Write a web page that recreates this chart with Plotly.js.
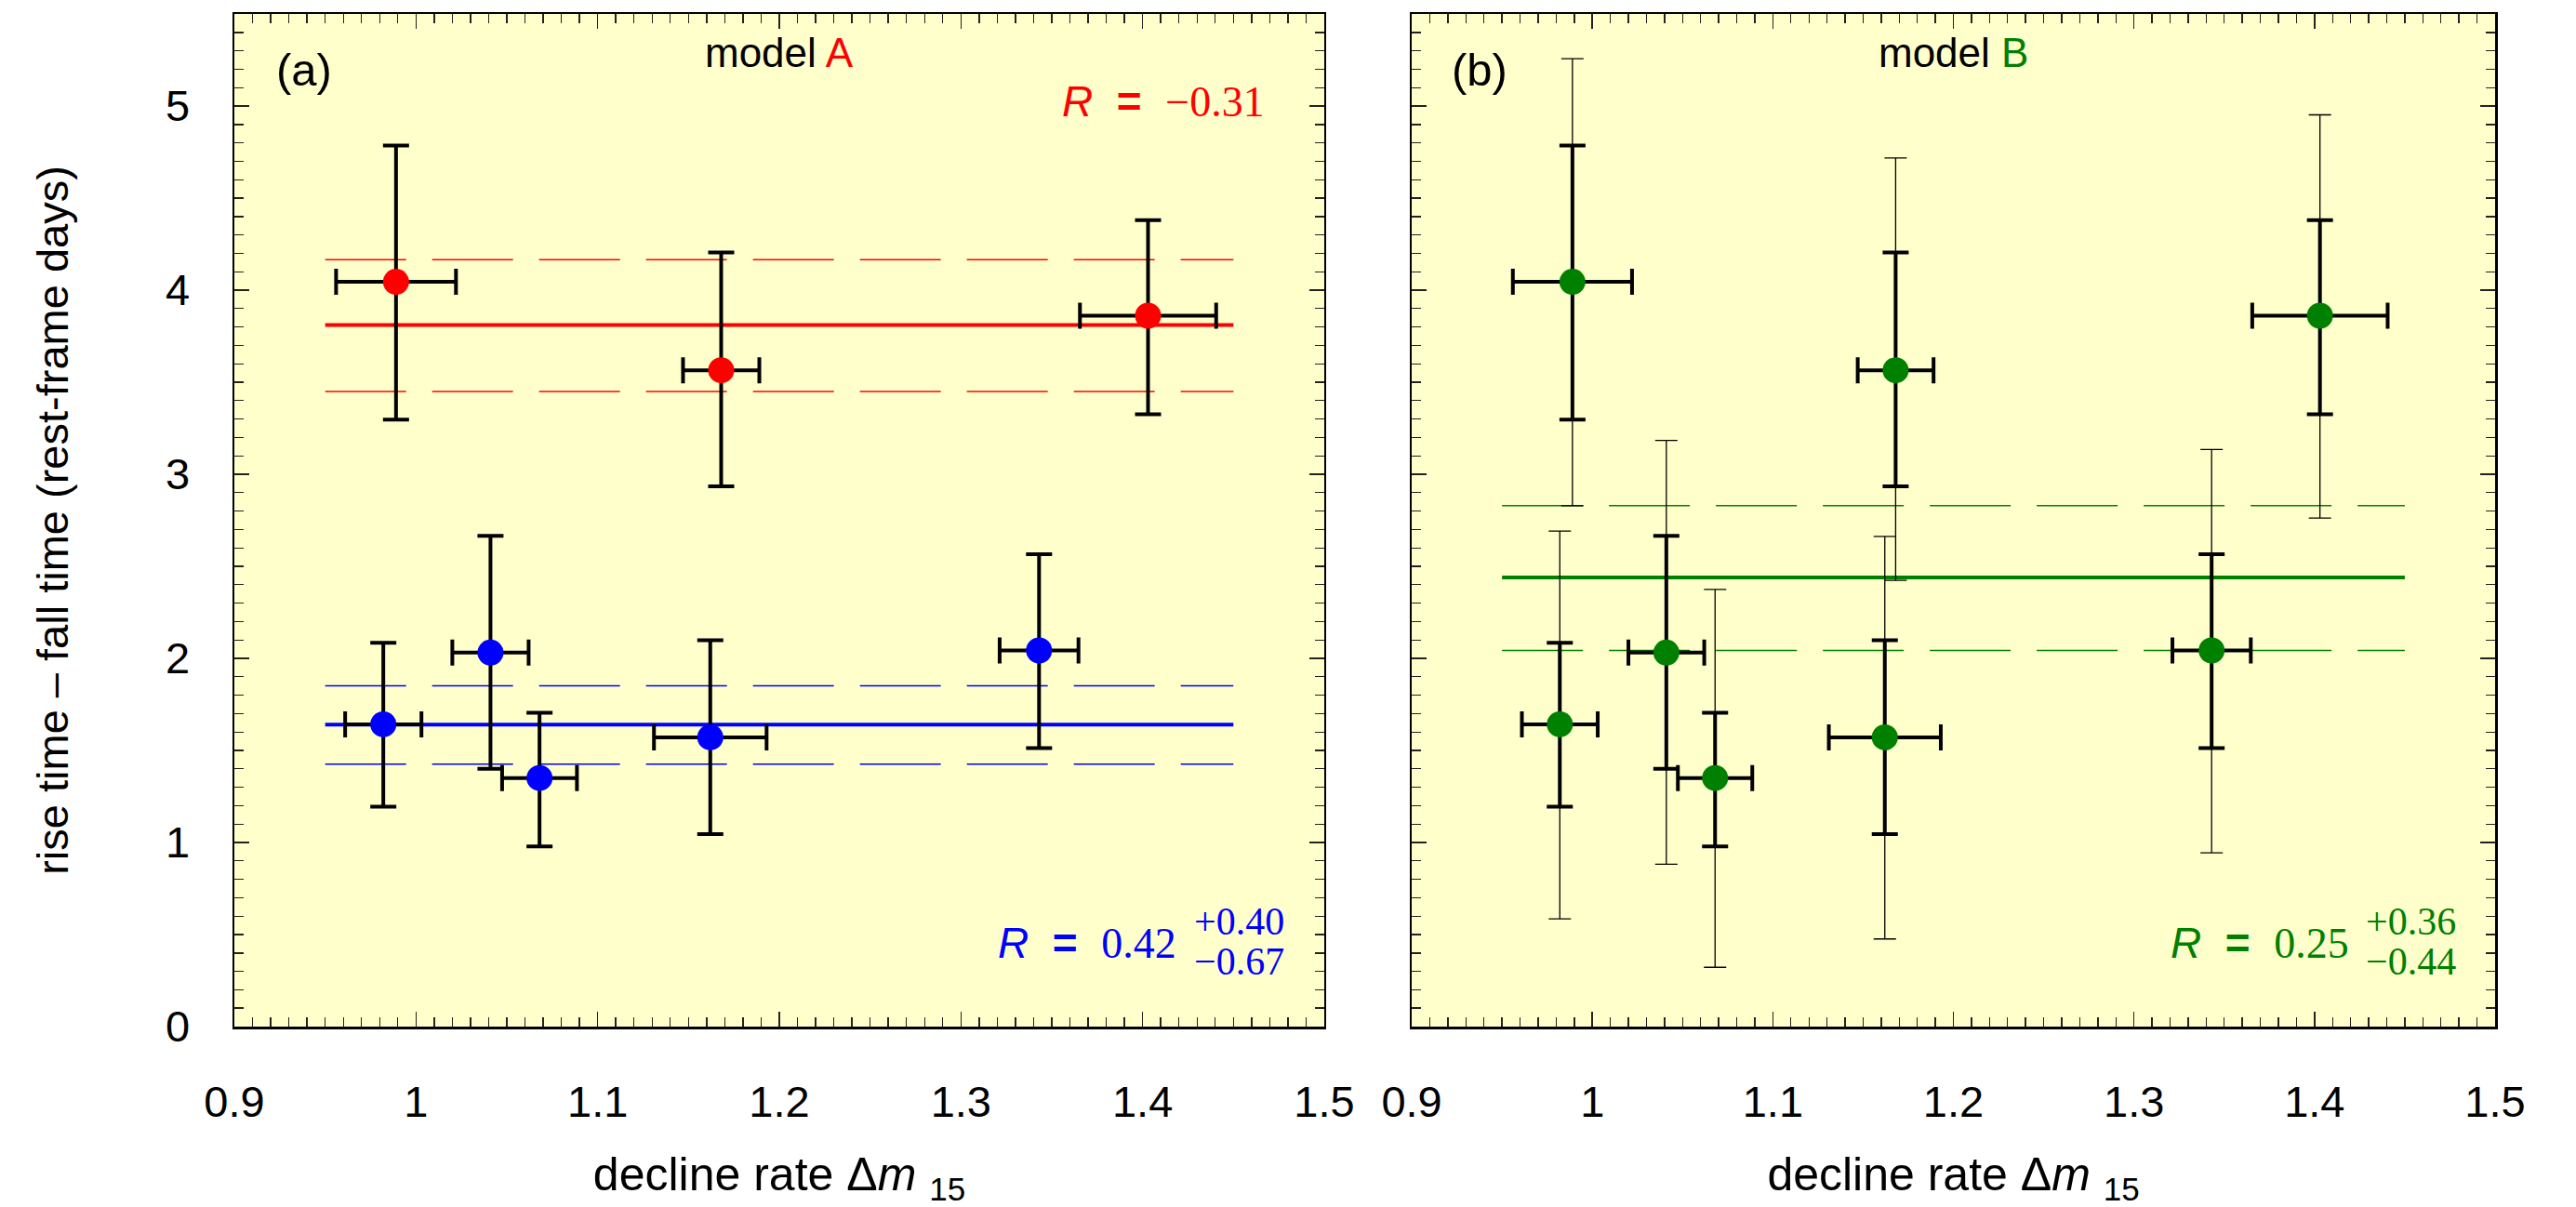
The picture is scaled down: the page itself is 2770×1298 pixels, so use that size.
<!DOCTYPE html>
<html>
<head>
<meta charset="utf-8">
<script src="https://cdn.plot.ly/plotly-3.0.1.min.js"></script>
<style>html,body{margin:0;padding:0;background:#fff;}#chart{width:2770px;height:1298px;}</style>
</head>
<body>
<div id="chart"></div>
<script>
// ---- data ----
// model A, red group
const redX      = [0.989, 1.168, 1.403];
const redY      = [4.045, 3.565, 3.861];
const redYTop   = [4.785, 4.204, 4.380];
const redYBot   = [3.297, 2.934, 3.326];
const redXErr   = [0.033, 0.021, 0.0375];
// model A, blue group
const blueX     = [0.982, 1.041, 1.068, 1.162, 1.343];
const blueY     = [1.642, 2.031, 1.350, 1.571, 2.043];
const blueYTop  = [2.085, 2.666, 1.705, 2.098, 2.566];
const blueYBot  = [1.195, 1.400, 0.978, 1.045, 1.513];
const blueXErr  = [0.021, 0.021, 0.0206, 0.031, 0.0217];
// model B: wider (thin) error bars for the same eight objects
const bThinTop  = [5.257, 4.718, 4.952, 2.691, 3.184, 2.374, 2.662, 3.134];
const bThinBot  = [2.829, 2.424, 2.762, 0.585, 0.882, 0.322, 0.476, 0.944];
// fitted constant levels with their 1-sigma bands
const fitX      = [0.95, 1.45];
const redFit    = {mid: 3.81, lo: 3.45, hi: 4.165};
const blueFit   = {mid: 1.64, lo: 1.425, hi: 1.851};
const greenFit  = {mid: 2.44, lo: 2.043, hi: 2.829};
// axis ticks
const xTicks    = [0.9, 1, 1.1, 1.2, 1.3, 1.4, 1.5];
const yTicks    = [0, 1, 2, 3, 4, 5];
const xTickText = ['0.9', '1', '1.1', '1.2', '1.3', '1.4', '1.5'];
const yTickText = ['0', '1', '2', '3', '4', '5'];

const RED = '#ff0000', BLUE = '#0000ff', GREEN = '#008000';
const SANS = 'Liberation Sans, Arial, sans-serif';
const SERIF = 'Liberation Serif, Times New Roman, serif';

const plus  = (top, y) => top.map((t, i) => t - y[i]);
const minus = (bot, y) => bot.map((b, i) => y[i] - b);

function level(val, color, width, dash, xa, ya) {
  return {x: fitX, y: [val, val], mode: 'lines', xaxis: xa, yaxis: ya,
          line: {color: color, width: width, dash: dash}, hoverinfo: 'skip'};
}
function band(fit, color, xa, ya) {
  return [
    level(fit.hi, color, 1.5, '87px,28px', xa, ya),
    level(fit.lo, color, 1.5, '87px,28px', xa, ya),
    level(fit.mid, color, 4, 'solid', xa, ya)
  ];
}
function points(x, y, top, bot, xerr, color, xa, ya) {
  return {
    x: x, y: y, mode: 'markers', xaxis: xa, yaxis: ya,
    marker: {color: color, size: 28, line: {width: 0}},
    error_y: {type: 'data', symmetric: false, array: plus(top, y), arrayminus: minus(bot, y),
              color: '#000', thickness: 4, width: 14},
    error_x: {type: 'data', array: xerr, color: '#000', thickness: 4, width: 14},
    hoverinfo: 'skip'
  };
}

const allX    = redX.concat(blueX);
const allY    = redY.concat(blueY);
const allTop  = redYTop.concat(blueYTop);
const allBot  = redYBot.concat(blueYBot);
const allXErr = redXErr.concat(blueXErr);

const traces = [].concat(
  band(redFit, RED, 'x', 'y'),
  band(blueFit, BLUE, 'x', 'y'),
  [points(redX, redY, redYTop, redYBot, redXErr, RED, 'x', 'y'),
   points(blueX, blueY, blueYTop, blueYBot, blueXErr, BLUE, 'x', 'y')],
  band(greenFit, GREEN, 'x2', 'y2'),
  [{x: allX, y: allY, mode: 'markers', xaxis: 'x2', yaxis: 'y2',
    marker: {color: 'rgba(0,0,0,0)', size: 1},
    error_y: {type: 'data', symmetric: false, array: plus(bThinTop, allY), arrayminus: minus(bThinBot, allY),
              color: '#000', thickness: 1.3, width: 12},
    hoverinfo: 'skip'},
   points(allX, allY, allTop, allBot, allXErr, GREEN, 'x2', 'y2')]
);

function xax(domain, anchor) {
  return {domain: domain, anchor: anchor, range: [0.9, 1.5], tickmode: 'array',
          tickvals: xTicks, ticktext: xTickText, ticks: 'inside', ticklen: 16, tickwidth: 1.6,
          tickcolor: '#222', showline: true, linecolor: '#000', linewidth: 2.5, mirror: 'ticks',
          showgrid: false, zeroline: false, ticklabelstandoff: 38,
          minor: {dtick: 0.01, tick0: 0.9, ticks: 'inside', ticklen: 10, tickwidth: 1.4, tickcolor: '#222', showgrid: false},
          tickfont: {family: SANS, size: 47, color: '#000'},
          title: {text: 'decline rate \u0394<i>m</i> <sub>15</sub>', font: {family: SANS, size: 50, color: '#000'}, standoff: 46}};
}
function yax(domain, anchor, labels) {
  return {domain: domain, anchor: anchor, range: [0, 5.5], tickmode: 'array',
          tickvals: yTicks, ticktext: yTickText, ticks: 'inside', ticklen: 16, tickwidth: 1.6,
          tickcolor: '#222', showline: true, linecolor: '#000', linewidth: 2.5, mirror: 'ticks',
          showgrid: false, zeroline: false, showticklabels: labels, ticklabelstandoff: 36,
          minor: {dtick: 0.1, tick0: 0, ticks: 'inside', ticklen: 10, tickwidth: 1.4, tickcolor: '#222', showgrid: false},
          tickfont: {family: SANS, size: 47, color: '#000'}};
}

const ya = yax([0, 1], 'x', true);
ya.title = {text: 'rise time \u2013 fall time (rest-frame days)', font: {family: SANS, size: 47, color: '#000'}, standoff: 90};

const nb = '\u00a0';
function rLabel(numText) {
  return '<i>R</i>' + nb + nb + '<b>=</b>' + nb + nb + '<span style="font-family:' + SERIF + '">' + numText + '</span>';
}

const annotations = [
  {xref: 'x domain', yref: 'y domain', x: 0.037, y: 0.945, xanchor: 'left', yanchor: 'middle', showarrow: false,
   text: '(a)', font: {family: SANS, size: 49, color: '#000'}},
  {xref: 'x domain', yref: 'y domain', x: 0.5, y: 0.962, xanchor: 'center', yanchor: 'middle', showarrow: false,
   text: 'model <span style="color:' + RED + '">A</span>', font: {family: SANS, size: 44, color: '#000'}},
  {xref: 'x domain', yref: 'y domain', x: 0.947, y: 0.914, xanchor: 'right', yanchor: 'middle', showarrow: false,
   text: rLabel('\u22120.31'), font: {family: SANS, size: 46, color: RED}},
  {xref: 'x domain', yref: 'y domain', x: 0.866, y: 0.083, xanchor: 'right', yanchor: 'middle', showarrow: false,
   text: rLabel('0.42'), font: {family: SANS, size: 46, color: BLUE}},
  {xref: 'x domain', yref: 'y domain', x: 0.879, y: 0.104, xanchor: 'left', yanchor: 'middle', showarrow: false,
   text: '+0.40', font: {family: SERIF, size: 42, color: BLUE}},
  {xref: 'x domain', yref: 'y domain', x: 0.879, y: 0.064, xanchor: 'left', yanchor: 'middle', showarrow: false,
   text: '\u22120.67', font: {family: SERIF, size: 42, color: BLUE}},

  {xref: 'x2 domain', yref: 'y2 domain', x: 0.035, y: 0.945, xanchor: 'left', yanchor: 'middle', showarrow: false,
   text: '(b)', font: {family: SANS, size: 49, color: '#000'}},
  {xref: 'x2 domain', yref: 'y2 domain', x: 0.5, y: 0.962, xanchor: 'center', yanchor: 'middle', showarrow: false,
   text: 'model <span style="color:' + GREEN + '">B</span>', font: {family: SANS, size: 44, color: '#000'}},
  {xref: 'x2 domain', yref: 'y2 domain', x: 0.867, y: 0.083, xanchor: 'right', yanchor: 'middle', showarrow: false,
   text: rLabel('0.25'), font: {family: SANS, size: 46, color: GREEN}},
  {xref: 'x2 domain', yref: 'y2 domain', x: 0.879, y: 0.104, xanchor: 'left', yanchor: 'middle', showarrow: false,
   text: '+0.36', font: {family: SERIF, size: 42, color: GREEN}},
  {xref: 'x2 domain', yref: 'y2 domain', x: 0.879, y: 0.064, xanchor: 'left', yanchor: 'middle', showarrow: false,
   text: '\u22120.44', font: {family: SERIF, size: 42, color: GREEN}}
];

const layout = {
  width: 2770, height: 1298,
  margin: {l: 252, r: 87, t: 15, b: 194, pad: 0},
  paper_bgcolor: '#ffffff', plot_bgcolor: '#ffffcc',
  showlegend: false, hovermode: false,
  font: {family: SANS, color: '#000'},
  xaxis: xax([0, 0.4821], 'y'),
  yaxis: ya,
  xaxis2: xax([0.5208, 1], 'y2'),
  yaxis2: yax([0, 1], 'x2', false),
  annotations: annotations
};

Plotly.newPlot('chart', traces, layout, {staticPlot: true, displayModeBar: false});
</script>
</body>
</html>
